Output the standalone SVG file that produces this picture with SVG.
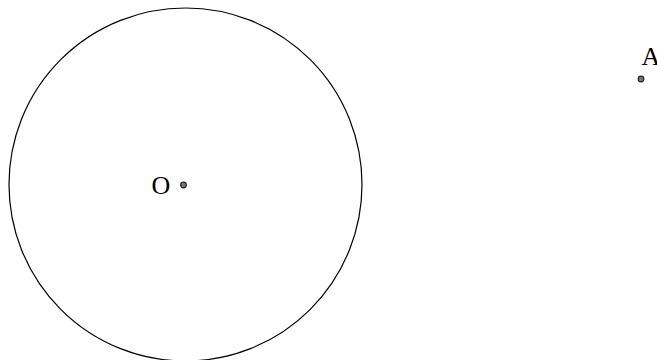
<svg xmlns="http://www.w3.org/2000/svg" width="657" height="360" viewBox="0 0 657 360">
<style>
.pt{fill:#777;stroke:#222;stroke-width:1.2}
.lbl{font-family:"Liberation Serif","Times New Roman",serif;font-size:26px;font-weight:normal;fill:#000}
</style>
<rect width="657" height="360" fill="#fff"/>
<circle cx="185.5" cy="184.5" r="176.5" fill="none" stroke="#000" stroke-width="1.2"/>
<g id="O">
<circle class="pt" cx="183.5" cy="185" r="2.8"/>
<text class="lbl" x="151.5" y="193.5">O</text>
</g>
<g id="A">
<circle class="pt" cx="641" cy="79" r="2.8"/>
<text class="lbl" x="641.5" y="65">A</text>
</g>
</svg>
